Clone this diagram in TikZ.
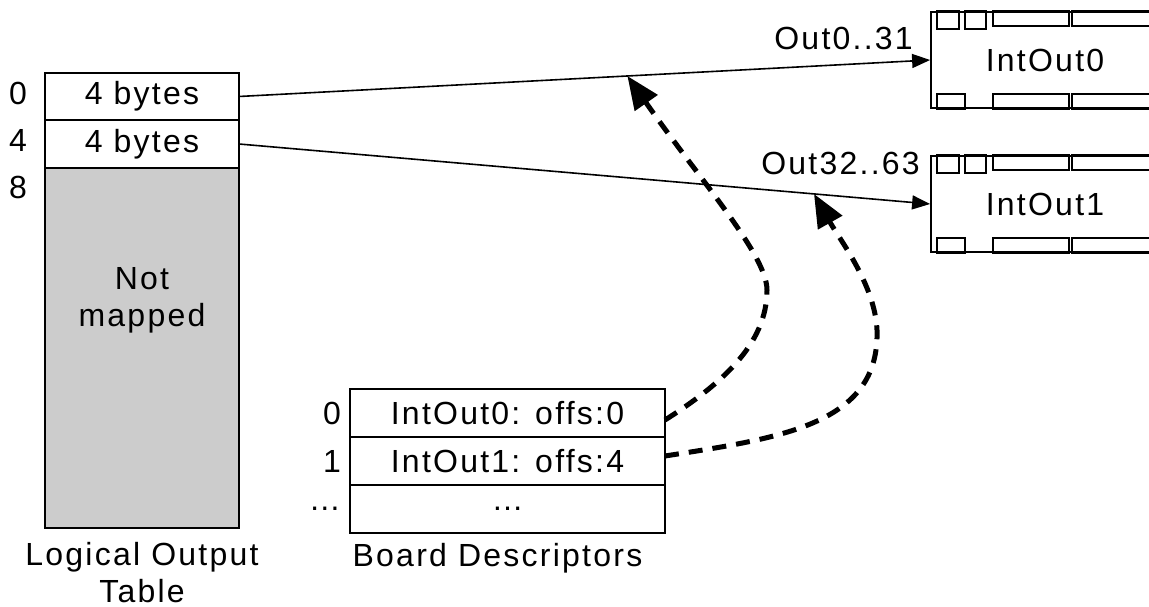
\documentclass[tikz,border=0pt]{standalone}
\usepackage{fontspec}
\setmainfont{Liberation Sans}[LetterSpace=7]
\usetikzlibrary{arrows.meta,positioning}
\definecolor{unmapped}{HTML}{CCCCCC}

\begin{document}
\begin{tikzpicture}[x=1pt, y=-1pt,
    font=\fontsize{32}{37}\selectfont,
    cell/.style={rectangle, draw, line width=1.6pt, inner sep=0pt, outer sep=0pt, minimum height=48pt},
    tabcell/.style={cell, minimum width=194pt, minimum height=47.5pt},
    brdcell/.style={cell, minimum width=315pt},
    chip/.style={rectangle, draw, line width=1.8pt, inner sep=0pt, minimum width=228pt, minimum height=96pt},
    pad/.style={draw, line width=1.6pt},
    idx/.style={inner sep=0pt},
    link/.style={-{Triangle[length=18pt,width=14pt]}, line width=1.6pt},
    ref/.style={-{Triangle[length=33pt,width=27pt]}, line width=5pt, dash pattern=on 14pt off 10pt}
]
    \useasboundingbox (0,0) rectangle (1149,607);

    % logical output table
    \node[tabcell] (row0) at (142,96.5) {4 bytes};
    \node[tabcell, below=0pt of row0] (row1) {4 bytes};
    \node[tabcell, fill=unmapped, minimum height=360pt, below=0pt of row1] (rest) {};
    \node[align=center, inner sep=0pt] (restlbl) at (142,300) {Not\\mapped};
    \node[idx] (off0) at (18,93) {0};
    \node[idx] (off4) at (18,140) {4};
    \node[idx] (off8) at (18,187) {8};
    \node[align=center, inner sep=0pt, anchor=north] (lotlbl) at (142,542) {Logical Output\\Table};

    % board descriptors
    \node[brdcell] (brd0) at (507.5,413) {IntOut0: offs:0};
    \node[brdcell, below=0pt of brd0] (brd1) {IntOut1: offs:4};
    \node[brdcell, below=0pt of brd1] (brd2) {…};
    \node[idx, left=9pt of brd0] (bi0) {0};
    \node[idx, left=9pt of brd1] (bi1) {1};
    \node[idx, left=9pt of brd2] (bi2) {…};
    \node[inner sep=0pt, anchor=north, below=10pt of brd2, xshift=-10pt] (brdlbl) {Board Descriptors};

    % interrupt output boards
    \node[chip] (out0) at (1045,60) {IntOut0};
    \node[chip] (out1) at (1045,204) {IntOut1};
    \foreach \c in {out0,out1} {
        \foreach \a/\w/\h in {7/22/18, 35/21/18, 63/76/15, 142/110/15}
            \draw[pad] (\c.north west) ++(\a,0) rectangle ++(\w,\h);
        \foreach \a/\w in {7/28, 63/76, 142/110}
            \draw[pad] (\c.south west) ++(\a,0) rectangle ++(\w,-15);
    }
    \node[idx, anchor=east] (rng0) at (913,38) {Out0..31};
    \node[idx, anchor=east] (rng1) at (920,163) {Out32..63};

    % mappings
    \draw[link] (row0.east) -- coordinate[pos=0.562] (hit0) (out0.west);
    \draw[link] (row1.east) -- coordinate[pos=0.832] (hit1) (out1.west);

    \draw[ref] ([yshift=-7pt]brd0.east) .. controls (720,385) and (767,345) .. (767,290)
        .. controls (767,255) and (700,180) .. (hit0);
    \draw[ref] ([yshift=5pt]brd1.east) .. controls (780,438) and (880,425) .. (877,330)
        .. controls (875,285) and (840,240) .. (hit1);
\end{tikzpicture}
\end{document}
